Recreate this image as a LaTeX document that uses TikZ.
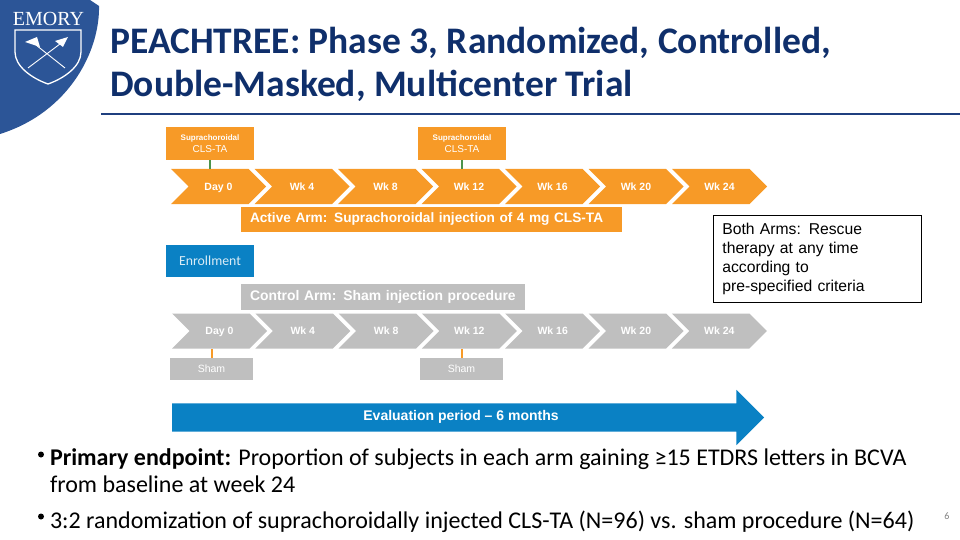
\documentclass[tikz,border=0pt]{standalone}
\usepackage{fontspec}
\setmainfont{Liberation Sans}
\newfontfamily\calibri{Carlito}
\newfontfamily\timesf{Liberation Serif}
\usepackage{tikz}
\usetikzlibrary{shapes.symbols,shapes.arrows}
\definecolor{emoryblue}{HTML}{2C5597}
\definecolor{titleblue}{HTML}{0F2F6B}
\definecolor{ruleblue}{HTML}{1F3F7F}
\definecolor{armorange}{HTML}{F79A27}
\definecolor{armgrey}{HTML}{BFBFBF}
\definecolor{evalblue}{HTML}{0A81C4}
\tikzset{
  chev/.style={signal,signal to=east,signal from=west,signal pointer angle=90,minimum width=95pt,minimum height=35pt,inner sep=0pt,outer sep=0pt,text=white,text height=8.5pt,text depth=1.5pt,font=\fontsize{10.5}{12}\selectfont\bfseries},
  orangev/.style={fill=armorange},
  greyv/.style={fill=armgrey},
  dosebox/.style={fill=armorange,text=white,minimum width=88pt,minimum height=33pt,inner sep=0pt,outer sep=0pt,align=center,font=\fontsize{10}{12}\selectfont},
  shambox/.style={fill=armgrey,text=white,minimum width=83pt,minimum height=22pt,inner sep=0pt,outer sep=0pt,font=\fontsize{10.5}{12}\selectfont},
  armbar/.style={anchor=west,text=white,minimum height=25.5pt,inner sep=0pt,outer sep=0pt},
  bullettext/.style={anchor=west,inner sep=0pt,outer sep=0pt,align=left,font=\fontsize{24}{27}\selectfont\calibri},
  dot/.style={circle,fill=black,minimum size=6pt,inner sep=0pt}
}
\begin{document}
\begin{tikzpicture}[x=1pt,y=-1pt]
\useasboundingbox (0,0) rectangle (960,540);
\fill[emoryblue] (0,0) -- (90,0) -- (99,6) .. controls (100,50) and (70,112) .. (0,134) -- cycle;
\draw[white,line width=1.3pt] (15,30) -- (81,30) -- (81,52) .. controls (81,66) and (65,78) .. (48,84) .. controls (31,78) and (15,66) .. (15,52) -- cycle;
\draw[white,line width=0.9pt] (28,68) -- (60,44) (65,68) -- (36,45);
\fill[white] (25,42) -- (37,37) -- (40,47) -- cycle;
\fill[white] (55,41) -- (68,37) -- (63,47) -- cycle;
\node[text=white,inner sep=0pt,font=\fontsize{20}{20}\selectfont\timesf] (emory) at (48.5,18.5) {EMORY};
\node[anchor=west,inner sep=0pt,text=titleblue,align=left,font=\fontsize{37.5}{43}\selectfont\calibri\bfseries] (title) at (110,64) {PEACHTREE: Phase 3, Randomized, Controlled,\\Double-Masked, Multicenter Trial};
\fill[ruleblue] (101,113) rectangle (960,115.5);
\foreach \i/\lab in {0/Day 0,1/Wk 4,2/Wk 8,3/Wk 12,4/Wk 16,5/Wk 20,6/Wk 24}{
  \node[chev,orangev] (a\i) at (218.5+83.5*\i,186.5) {\lab};
  \node[chev,greyv] (c\i) at (219.5+83.3*\i,331) {\lab};
}
\node[dosebox] (dose1) at (210,143.5) {{\fontsize{8}{10}\selectfont\bfseries Suprachoroidal}\\CLS-TA};
\node[dosebox] (dose2) at (462,143.5) {{\fontsize{8}{10}\selectfont\bfseries Suprachoroidal}\\CLS-TA};
\draw[green!40!black!70,line width=1.2pt] (dose1.south) -- (dose1.south |- a0.north);
\draw[green!40!black!70,line width=1.2pt] (dose2.south) -- (dose2.south |- a3.north);
\node[armbar,fill=armorange,minimum width=381pt,text width=363pt,align=left,font=\fontsize{13.65}{15}\selectfont\bfseries] (activebar) at (241,219.5) {Active Arm: Suprachoroidal injection of 4 mg CLS-TA};
\node[fill=evalblue,text=evalblue!15,minimum width=88pt,minimum height=32pt,inner sep=0pt,outer sep=0pt,font=\fontsize{13.8}{15}\selectfont\calibri] (enroll) at (210,261) {Enrollment};
\node[armbar,fill=armgrey,minimum width=284pt,text width=266pt,align=left,font=\fontsize{13.9}{15}\selectfont\bfseries] (controlbar) at (241,297) {Control Arm: Sham injection procedure};
\node[shambox] (sham1) at (211.5,369) {Sham};
\node[shambox] (sham2) at (461.5,369) {Sham};
\draw[armorange,line width=2pt] (sham1.north) -- (sham1.north |- c0.south);
\draw[armorange,line width=2pt] (sham2.north) -- (sham2.north |- c3.south);
\node[draw=black,line width=0.8pt,anchor=north west,minimum width=208pt,minimum height=87pt,text width=190pt,inner xsep=9pt,inner ysep=0pt,align=left,font=\fontsize{15.7}{19}\selectfont] (rescue) at (713,215) {Both Arms: Rescue\\therapy at any time\\according to\\pre-specified criteria};
\node[single arrow,fill=evalblue,text=white,minimum width=55pt,minimum height=592pt,single arrow head extend=13.5pt,single arrow tip angle=90,single arrow head indent=0pt,inner xsep=0pt,inner ysep=8pt,outer sep=0pt,text height=9pt,text depth=3pt,font=\fontsize{14}{14}\selectfont\bfseries] (evalarrow) at (461,417.5) {Evaluation period -- 6 months\hspace{8pt}};
\node[dot] (b1) at (41,454.5) {};
\node[dot] (b2) at (41,516.5) {};
\node[bullettext] (pt1) at (50,470.5) {\textbf{Primary endpoint:} Proportion of subjects in each arm gaining ≥15 ETDRS letters in BCVA\\from baseline at week 24};
\node[bullettext] (pt2) at (50,522) {3:2 randomization of suprachoroidally injected CLS-TA (N=96) vs. sham procedure (N=64)};
\node[text=gray,inner sep=0pt,font=\fontsize{10}{12}\selectfont\calibri] (pageno) at (947,516) {6};
\end{tikzpicture}
\end{document}
